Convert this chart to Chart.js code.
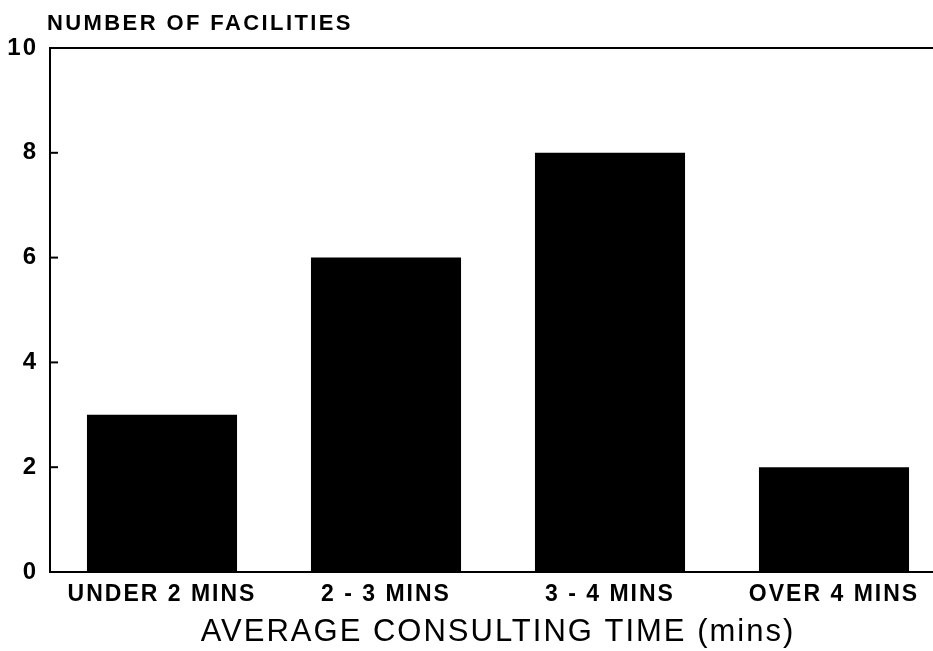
<!DOCTYPE html>
<html>
<head>
<meta charset="utf-8">
<script src="https://cdn.jsdelivr.net/npm/chart.js@4/dist/chart.umd.min.js"></script>
<style>
  html, body { margin: 0; padding: 0; background: #fff; overflow: hidden; }
  #wrap { width: 933px; height: 651px; overflow: hidden; }
</style>
</head>
<body>
<div id="wrap"><canvas id="myChart" width="946" height="651"></canvas></div>
<script>
const categories = ["UNDER 2 MINS", "2 - 3 MINS", "3 - 4 MINS", "OVER 4 MINS"];
const facilities = [3, 6, 8, 2];
const yTicks = [0, 2, 4, 6, 8, 10];
const yTitle = "NUMBER OF FACILITIES";
const xTitle = "AVERAGE CONSULTING TIME (mins)";

const FONT = "'Liberation Sans', Arial, Helvetica, sans-serif";

// spacing, top frame line, inward ticks and the y title
const framePlugin = {
    id: "frame",
    beforeDraw(chart) {
        chart.ctx.letterSpacing = "2px";
    },
    afterDraw(chart) {
        const ctx = chart.ctx;
        const area = chart.chartArea;
        const y = chart.scales.y;
        ctx.save();
        ctx.strokeStyle = "#000";
        ctx.lineWidth = 2;
        ctx.beginPath();
        ctx.moveTo(area.left, area.top);
        ctx.lineTo(chart.width, area.top);
        ctx.stroke();
        yTicks.forEach((v) => {
            const py = y.getPixelForValue(v);
            ctx.beginPath();
            ctx.moveTo(area.left, py);
            ctx.lineTo(area.left + 8, py);
            ctx.stroke();
        });
        ctx.letterSpacing = "2.4px";
        ctx.fillStyle = "#000";
        ctx.font = "bold 22px " + FONT;
        ctx.textBaseline = "alphabetic";
        ctx.textAlign = "left";
        ctx.fillText(yTitle, 47, 30);
        ctx.restore();
    },
};

const ctx = document.getElementById("myChart").getContext("2d");
const myChart = new Chart(ctx, {
    type: "bar",
    data: {
        labels: categories,
        datasets: [
            {
                label: yTitle,
                data: facilities,
                backgroundColor: "#000",
                borderWidth: 0,
                categoryPercentage: 1,
                barPercentage: 0.67,
            },
        ],
    },
    options: {
        responsive: false,
        animation: false,
        events: [],
        layout: { padding: { top: 48, left: 0, right: 0, bottom: 0 } },
        plugins: {
            legend: { display: false },
            tooltip: { enabled: false },
        },
        scales: {
            x: {
                grid: { display: false, drawTicks: false },
                border: { display: true, color: "#000", width: 2 },
                ticks: {
                    color: "#000",
                    padding: 9,
                    maxRotation: 0,
                    font: { family: FONT, size: 23, weight: "bold" },
                },
                title: {
                    display: true,
                    text: xTitle,
                    color: "#000",
                    padding: { top: 0, bottom: 0 },
                    font: { family: FONT, size: 31, weight: "normal", lineHeight: 1.2 },
                },
                afterFit(scale) { scale.height = 79; },
            },
            y: {
                min: 0,
                max: 10,
                grid: { display: false, drawTicks: false },
                border: { display: true, color: "#000", width: 2 },
                ticks: {
                    stepSize: 2,
                    color: "#000",
                    padding: 12,
                    font: { family: FONT, size: 24, weight: "bold" },
                },
                afterFit(scale) { scale.width = 50; },
            },
        },
    },
    plugins: [framePlugin],
});
</script>
</body>
</html>
